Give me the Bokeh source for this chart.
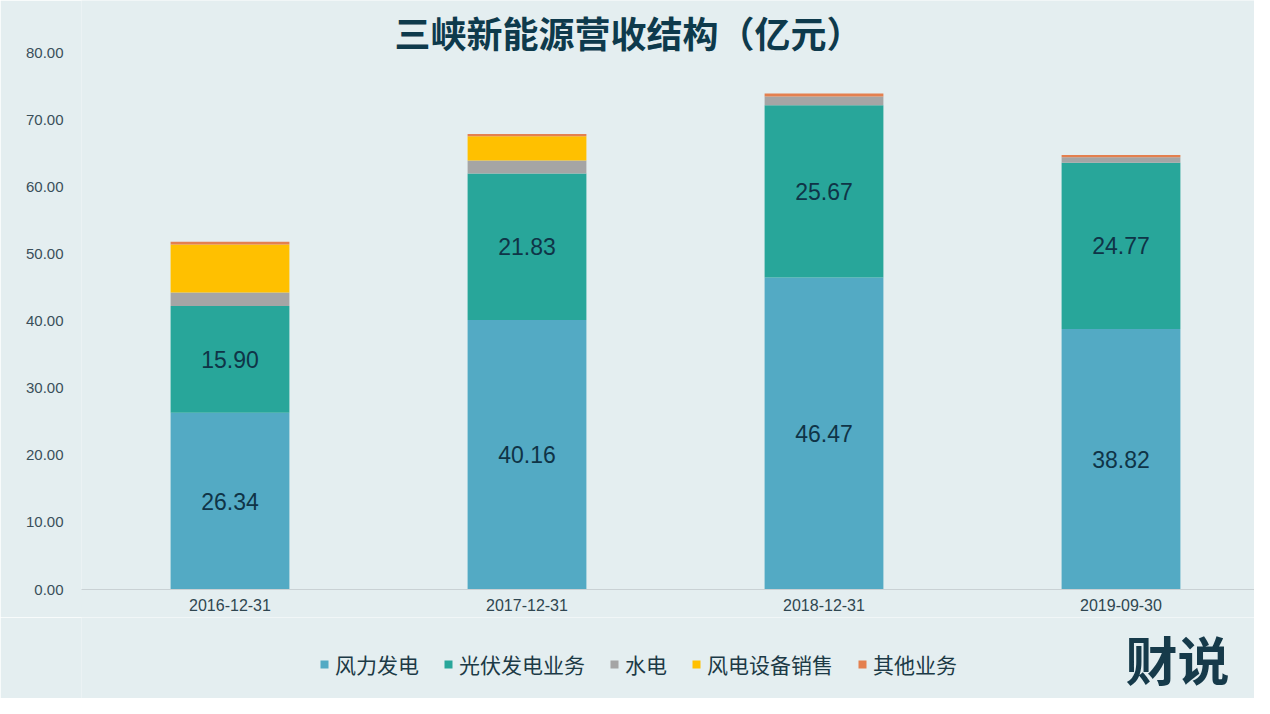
from bokeh.plotting import figure
from bokeh.layouts import column
from bokeh.models import (Range1d, FixedTicker, NumeralTickFormatter, Legend, LegendItem,
                          Label, ColumnDataSource)
from bokeh.core.properties import value
from bokeh.embed import file_html
from bokeh.resources import INLINE

# ---- data ----
categories = ["2016-12-31", "2017-12-31", "2018-12-31", "2019-09-30"]
series_names = ["风力发电", "光伏发电业务", "水电", "风电设备销售", "其他业务"]
wind = [26.34, 40.16, 46.47, 38.82]
solar = [15.90, 21.83, 25.67, 24.77]
hydro = [2.00, 1.92, 1.30, 0.80]
equipment = [7.15, 3.60, 0.00, 0.00]
other = [0.40, 0.35, 0.45, 0.35]
colors = ["#53aac4", "#28a69a", "#a5a5a5", "#ffc000", "#e4804f"]
y_ticks = [0, 10, 20, 30, 40, 50, 60, 70, 80]
title_text = "三峡新能源营收结构（亿元）"
logo_text = "财说"

BG = "#e4eef0"
CJK = "Noto Sans CJK SC"
LAT = "Liberation Sans"
W = 1254
LEFT = 81

xs = list(range(len(categories)))

# ---- main chart ----
p = figure(width=W, height=617, output_backend="svg", toolbar_location=None,
           x_range=Range1d(-0.5, 3.4495), y_range=Range1d(0, 87.75),
           min_border_left=LEFT, min_border_right=0, min_border_top=0, min_border_bottom=28,
           background_fill_color=BG, border_fill_color=BG, outline_line_color=None)

series = [wind, solar, hydro, equipment, other]
sources = []
bottoms = [0.0] * 4
for name, vals, col in zip(series_names, series, colors):
    tops = [b + v for b, v in zip(bottoms, vals)]
    src = ColumnDataSource(dict(x=xs, bottom=list(bottoms), top=tops))
    sources.append(src)
    p.vbar(x="x", bottom="bottom", top="top", width=0.4, source=src,
           fill_color=col, line_color=None)
    bottoms = tops

# data labels for wind and solar
lab_x, lab_y, lab_t = [], [], []
base = [0.0] * 4
for vals in (wind, solar):
    for i, v in enumerate(vals):
        lab_x.append(xs[i])
        lab_y.append(base[i] + v / 2)
        lab_t.append(f"{v:.2f}")
    base = [b + v for b, v in zip(base, vals)]
p.text(x=lab_x, y=lab_y, text=lab_t, text_align="center", text_baseline="middle",
       text_font=value(LAT), text_font_size="23px", text_color="#0f3447")

# axes
p.xgrid.visible = False
p.ygrid.visible = False
p.xaxis.ticker = FixedTicker(ticks=xs)
p.xaxis.major_label_overrides = {i: c for i, c in zip(xs, categories)}
p.xaxis.major_tick_line_color = None
p.xaxis.major_tick_out = 0
p.xaxis.major_tick_in = 0
p.xaxis.minor_tick_line_color = None
p.xaxis.axis_line_color = "#c9d1d4"
p.xaxis.major_label_text_font = LAT
p.xaxis.major_label_text_font_size = "16px"
p.xaxis.major_label_text_color = "#2f4650"
p.xaxis.major_label_standoff = 9

p.yaxis.ticker = FixedTicker(ticks=y_ticks)
p.yaxis.formatter = NumeralTickFormatter(format="0.00")
p.yaxis.axis_line_color = None
p.yaxis.major_tick_line_color = None
p.yaxis.major_tick_out = 0
p.yaxis.major_tick_in = 0
p.yaxis.minor_tick_line_color = None
p.yaxis.major_label_text_font = LAT
p.yaxis.major_label_text_font_size = "15px"
p.yaxis.major_label_text_color = "#3a4f5a"
p.yaxis.major_label_standoff = 18

# title
p.add_layout(Label(x=1.342, y=83.1, text=title_text, text_align="center",
                   text_baseline="middle", text_font=CJK, text_font_size="36px",
                   text_font_style="bold", text_color="#0e3a4c"))

# ---- legend / logo strip ----
p2 = figure(width=W, height=81, output_backend="svg", toolbar_location=None,
            x_range=Range1d(LEFT, W), y_range=Range1d(0, 81),
            x_axis_type=None, y_axis_type=None,
            min_border_left=LEFT, min_border_right=0, min_border_top=0, min_border_bottom=0,
            background_fill_color=BG, border_fill_color=BG, outline_line_color=None)
p2.xgrid.visible = False
p2.ygrid.visible = False

items = []
for name, col, src in zip(series_names, colors, sources):
    r = p2.vbar(x="x", bottom="bottom", top="top", width=0.4, source=src,
                fill_color=col, line_color=None, visible=False)
    items.append(LegendItem(label=name, renderers=[r]))
legend = Legend(items=items, orientation="horizontal", location=(319 - LEFT, 19),
                background_fill_alpha=0, border_line_color=None,
                inactive_fill_alpha=0,
                label_text_font=CJK, label_text_font_size="21px", label_text_color="#1c3a46",
                glyph_width=10, glyph_height=10, label_standoff=6, spacing=24,
                label_height=24, padding=0, margin=0)
p2.add_layout(legend, "center")

p2.add_layout(Label(x=1177, y=40.5, text=logo_text, text_align="center",
                    text_baseline="middle", text_font=CJK, text_font_size="52px",
                    text_font_style="bold", text_color="#163a4a"))

open("out.html", "w").write(file_html(column(p, p2, spacing=0), INLINE))
